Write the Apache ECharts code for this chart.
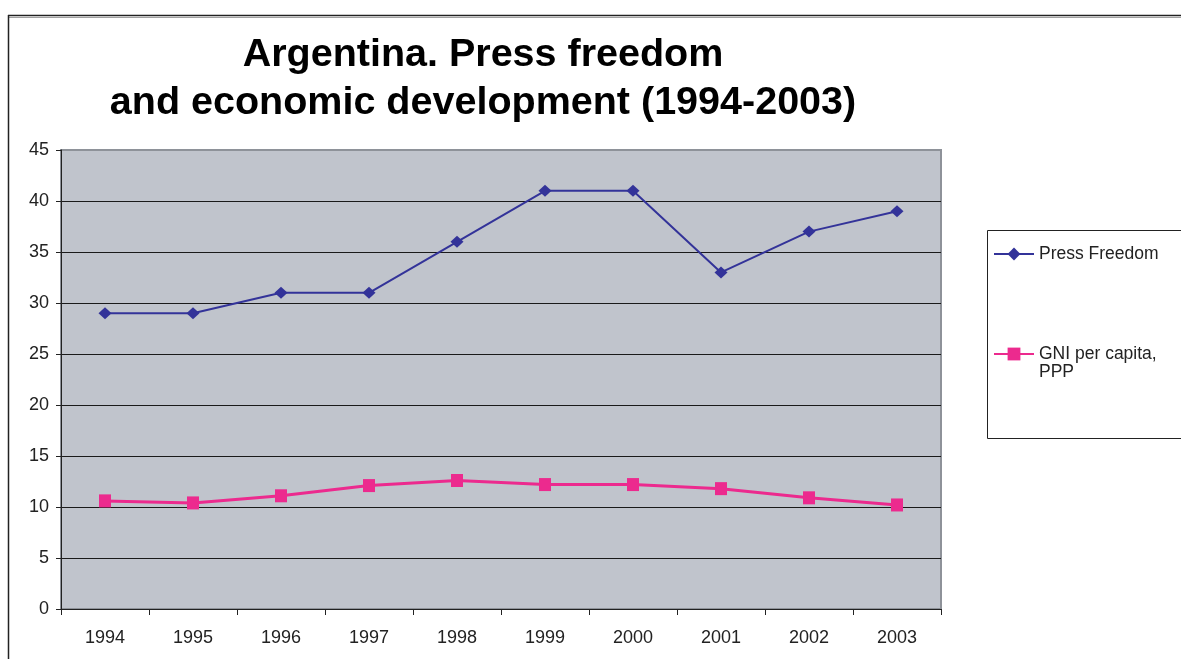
<!DOCTYPE html>
<html>
<head>
<meta charset="utf-8">
<title>Argentina. Press freedom and economic development (1994-2003)</title>
<script src="https://cdn.jsdelivr.net/npm/echarts@6/dist/echarts.min.js"></script>
<style>
  html, body { margin: 0; padding: 0; background: #ffffff; }
  #chart { width: 1181px; height: 659px; }
</style>
</head>
<body>
<div id="chart"></div>
<script>
// Years on the category axis
const years = ['1994', '1995', '1996', '1997', '1998', '1999', '2000', '2001', '2002', '2003'];
// Press Freedom score per year
const pressFreedom = [29, 29, 31, 31, 36, 41, 41, 33, 37, 39];
// GNI per capita, PPP (thousands of dollars)
const gniPerCapita = [10.6, 10.4, 11.1, 12.1, 12.6, 12.2, 12.2, 11.8, 10.9, 10.2];
// Value axis ticks
const yMin = 0, yMax = 45, yStep = 5;

const FONT = '"Liberation Sans", Arial, Helvetica, sans-serif';
const chart = echarts.init(document.getElementById('chart'), null, { renderer: 'canvas' });

// gridlines are dark; the top one coincides with the grey plot border
const gridLineColors = [];
for (let v = yMin; v <= yMax; v += yStep) gridLineColors.push(v === yMax ? '#8E9299' : '#1a1a1a');

chart.setOption({
  animation: false,
  backgroundColor: '#ffffff',
  textStyle: { fontFamily: FONT },
  title: {
    text: 'Argentina. Press freedom\nand economic development (1994-2003)',
    left: 478,
    top: 26,
    textAlign: 'center',
    textStyle: {
      fontFamily: FONT,
      fontSize: 39.5,
      fontWeight: 'bold',
      lineHeight: 48,
      color: '#000000'
    }
  },
  grid: {
    left: 61,
    top: 150,
    right: 240,
    bottom: 50,
    show: true,
    backgroundColor: '#C0C4CC',
    borderColor: '#8E9299',
    borderWidth: 2,
    containLabel: false
  },
  legend: {
    orient: 'vertical',
    left: 993,
    top: 245,
    itemWidth: 40,
    itemHeight: 16,
    itemGap: 64,
    padding: 0,
    textStyle: { fontFamily: FONT, fontSize: 17.5, color: '#222222', lineHeight: 18 },
    formatter: function (name) {
      return name === 'GNI per capita, PPP' ? '\nGNI per capita,\nPPP' : name;
    },
    data: ['Press Freedom', 'GNI per capita, PPP']
  },
  xAxis: {
    type: 'category',
    data: years,
    boundaryGap: true,
    axisLine: { show: true, lineStyle: { color: '#222222', width: 1 } },
    axisTick: { show: true, length: 6, alignWithLabel: false, lineStyle: { color: '#222222' } },
    axisLabel: { fontFamily: FONT, fontSize: 18, color: '#222222', margin: 20 },
    splitLine: { show: false }
  },
  yAxis: {
    type: 'value',
    min: yMin,
    max: yMax,
    interval: yStep,
    axisLine: { show: true, lineStyle: { color: '#222222', width: 1 } },
    axisTick: { show: true, length: 5, inside: false, lineStyle: { color: '#222222' } },
    axisLabel: { fontFamily: FONT, fontSize: 18, color: '#222222', margin: 12 },
    splitLine: { show: true, lineStyle: { color: gridLineColors, width: 1 } }
  },
  series: [
    {
      name: 'Press Freedom',
      type: 'line',
      data: pressFreedom,
      color: '#333399',
      symbol: 'diamond',
      symbolSize: [13, 12],
      lineStyle: { color: '#333399', width: 2 },
      itemStyle: { color: '#333399' },
      z: 3
    },
    {
      name: 'GNI per capita, PPP',
      type: 'line',
      data: gniPerCapita,
      color: '#EC2A8E',
      symbol: 'rect',
      symbolSize: [12, 13],
      lineStyle: { color: '#EC2A8E', width: 3 },
      itemStyle: { color: '#EC2A8E' },
      z: 3
    }
  ],
  graphic: [
    // outer frame: double top rule and left edge
    { type: 'line', silent: true, shape: { x1: 8, y1: 15.5, x2: 1181, y2: 15.5 }, style: { stroke: '#222222', lineWidth: 1.5 } },
    { type: 'line', silent: true, shape: { x1: 9, y1: 17.5, x2: 1181, y2: 17.5 }, style: { stroke: '#a0a0a0', lineWidth: 1 } },
    { type: 'line', silent: true, shape: { x1: 8.5, y1: 15, x2: 8.5, y2: 659 }, style: { stroke: '#222222', lineWidth: 1.5 } },
    // legend box
    { type: 'rect', silent: true, z: -1, shape: { x: 987.5, y: 230.5, width: 200, height: 208 }, style: { fill: '#ffffff', stroke: '#222222', lineWidth: 1 } }
  ]
});
</script>
</body>
</html>
